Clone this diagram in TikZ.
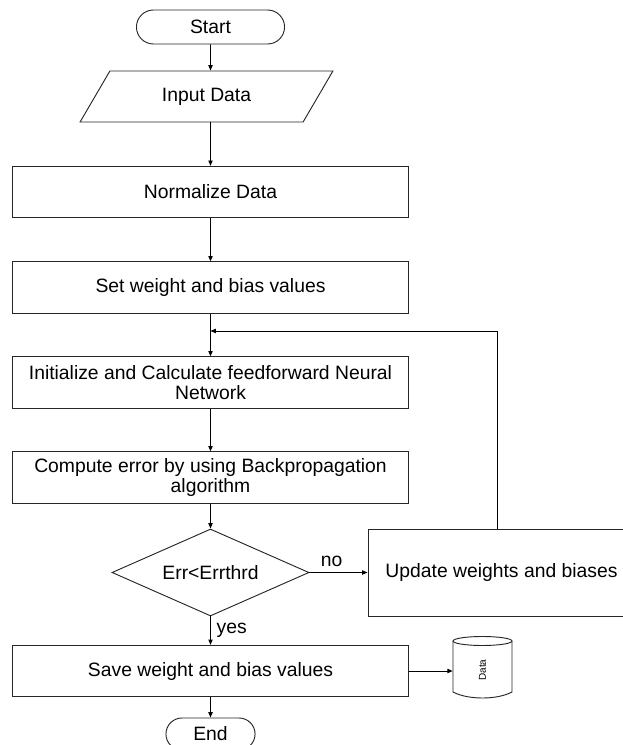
\documentclass[tikz,border=0pt]{standalone}
\usepackage{fontspec}
\setmainfont{Liberation Sans}
\usetikzlibrary{shapes.geometric,shapes.misc,arrows.meta}

\begin{document}
\begin{tikzpicture}[x=0.75pt, y=-0.75pt,
    font=\fontsize{14.5}{15.5}\selectfont,
    terminal/.style={draw=black!85, line width=0.7pt, rounded rectangle, minimum width=117.75pt, minimum height=25.5pt},
    io/.style={draw=black!85, line width=0.7pt, trapezium, trapezium left angle=60, trapezium right angle=120, trapezium stretches=true, minimum width=191.25pt, minimum height=38.25pt},
    process/.style={draw=black!85, line width=0.7pt, rectangle, minimum width=297pt, minimum height=38.5pt, align=center, inner sep=2pt},
    decision/.style={draw=black!85, line width=0.7pt, diamond, aspect=2.26, minimum width=147.75pt, minimum height=65.25pt, inner sep=0pt},
    flow/.style={draw=black, line width=0.7pt, -{Triangle[length=4pt,width=3.2pt]}}]
    \useasboundingbox (0,0) rectangle (623,745);
    \clip (0,0) rectangle (623,745);

    % Main column
    \node[terminal] (start) at (210.5,27) {Start};
    \node[io] (input) at (206.5,96.5) {Input Data};
    \node[process] (norm) at (210.5,192) {Normalize Data};
    \node[process] (setw) at (210.5,287.5) {Set weight and bias values};
    \node[process] (init) at (210.5,382.5) {Initialize and Calculate feedforward Neural\\Network};
    \node[process] (comp) at (210.5,477.5) {Compute error by using Backpropagation\\algorithm};
    \node[decision] (dec) at (210.5,572.5) {Err<Errthrd};
    \node[process] (save) at (210.5,671) {Save weight and bias values};
    \node[terminal, minimum width=73.5pt, minimum height=24pt] (end) at (210.5,734) {End};

    % Update box and data store
    \node[process, minimum width=200.25pt, minimum height=65.25pt] (upd) at (501.5,572.5) {Update weights and biases};
    \node[minimum width=44.25pt, minimum height=45.75pt, inner sep=0pt] (db) at (482.5,668) {};
    \draw[draw=black!85, line width=0.7pt] (453,641) -- (453,692) .. controls (468,700) and (497,700) .. (512,692) -- (512,641);
    \draw[draw=black!85, line width=0.7pt] (482.5,641) ellipse [x radius=29.5, y radius=4.5];
    \node[rotate=90, font=\fontsize{7.5}{9}\selectfont] (dbtext) at (482.5,670) {Data};

    % Arrows
    \draw[flow] (start) -- (start |- input.north);
    \draw[flow] (input.south -| norm.north) -- (norm.north);
    \draw[flow] (norm) -- (setw);
    \draw[flow] (setw) -- (init);
    \draw[flow] (init) -- (comp);
    \draw[flow] (comp) -- (dec);
    \draw[flow] (dec.east) -- (upd.west) node[pos=0.38, above=1pt] {no};
    \draw[flow] (dec.south) -- (save.north) node[midway, right=1pt] {yes};
    \draw[flow] (save.east) -- (save.east -| db.west);
    \draw[flow] (save) -- (end);

    % Loop back
    \coordinate (fbr) at (497,331);
    \coordinate (fb) at (210.5,331);
    \draw[flow] (upd.north -| fbr) -- (fbr) -- (fb);
\end{tikzpicture}
\end{document}
